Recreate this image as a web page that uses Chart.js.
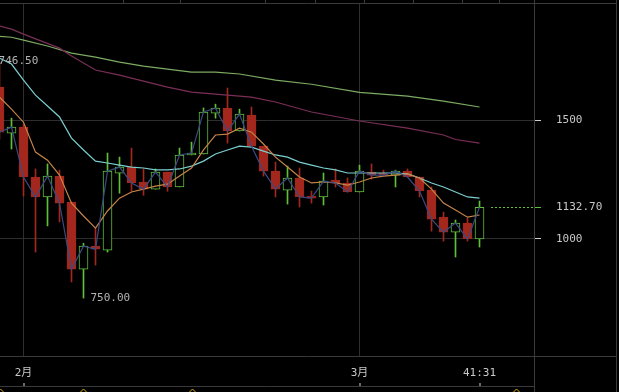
<!DOCTYPE html>
<html>
<head>
<meta charset="utf-8">
<script src="https://cdn.jsdelivr.net/npm/chart.js@4.4.1/dist/chart.umd.min.js"></script>
<style>
html, body { margin: 0; padding: 0; background: #000; }
canvas { display: block; }
</style>
</head>
<body>
<canvas id="kline" width="619" height="392"></canvas>
<script>
// 日K数据 (从图上读出来的)
const opens  = [1639, 1445, 1470, 1260, 1176, 1264, 1155, 872, 969, 952,
                1276, 1302, 1239, 1209, 1281, 1218, 1353, 1357, 1529, 1550,
                1454, 1521, 1390, 1285, 1205, 1256, 1180, 1176, 1247, 1235,
                1197, 1281, 1277, 1268, 1285, 1260, 1205, 1091, 1028, 1066,
                999];
const closes = [1449, 1470, 1260, 1176, 1264, 1150, 872, 969, 956, 1285,
                1302, 1235, 1209, 1281, 1218, 1353, 1361, 1534, 1550, 1454,
                1525, 1390, 1285, 1209, 1256, 1176, 1171, 1243, 1235, 1197,
                1285, 1268, 1268, 1285, 1260, 1201, 1083, 1028, 1066, 999,
                1132.7];
const highs  = [1746.5, 1508, 1480, 1294, 1315, 1289, 1155, 981, 1045, 1361,
                1344, 1382, 1294, 1294, 1281, 1382, 1407, 1551, 1567, 1635,
                1546, 1555, 1390, 1323, 1306, 1298, 1201, 1277, 1294, 1256,
                1310, 1315, 1289, 1289, 1294, 1260, 1218, 1112, 1079, 1087,
                1159];
const lows   = [1420, 1378, 1180, 944, 1054, 1071, 818, 750, 889, 944,
                1192, 1200, 1183, 1209, 1200, 1218, 1353, 1357, 1508, 1403,
                1454, 1390, 1264, 1176, 1146, 1134, 1150, 1142, 1218, 1197,
                1197, 1251, 1268, 1218, 1260, 1176, 1032, 990, 923, 990,
                965];

// 均线
const maOrange = [1597, 1546, 1491, 1365, 1331, 1268, 1150, 1096, 1045, 1117,
                  1171, 1197, 1209, 1222, 1230, 1264, 1298, 1374, 1437, 1441,
                  1466, 1449, 1399, 1344, 1302, 1260, 1235, 1239, 1235, 1226,
                  1239, 1256, 1264, 1268, 1273, 1256, 1209, 1150, 1121, 1091,
                  1100];
const maCyan   = [1761, 1736, 1668, 1605, 1559, 1513, 1424, 1374, 1327, 1319,
                  1310, 1302, 1298, 1290, 1290, 1294, 1306, 1327, 1357, 1374,
                  1390, 1386, 1369, 1353, 1344, 1323, 1310, 1298, 1290, 1277,
                  1277, 1277, 1277, 1277, 1273, 1256, 1235, 1218, 1197, 1176,
                  1171];
const maPurple = [1896, 1883, 1862, null, null, 1803, 1770, null, 1711, null,
                  1689, null, 1664, null, 1639, null, 1618, null, 1609, null,
                  1601, 1597, null, 1576, null, null, 1534, null, null, null,
                  1496, null, null, null, 1466, null, null, 1437, 1418, null,
                  1403];
const maGreen  = [1853, 1849, 1837, null, 1812, null, 1782, null, 1765, null,
                  1744, null, 1727, null, 1715, null, 1702, null, 1702, null,
                  1694, null, null, 1668, null, null, 1651, null, null, null,
                  1617, null, null, null, 1601, null, null, 1580, null, null,
                  1555];

// 时间轴
const tickIdx = [2, 30, 40];
const tickText = ["2月", "3月", "41:31"];
const yTicks = [1000, 1132.7, 1500];
const markerIdx = [0, 7, 16, 43];

const RED = "#a3271c";
const GREEN = "#5fbf3c";
const FRAME = "#3a3a3a";
const GRID = "#2e2e2e";
const TEXT = "#c8c8c8";
const MONO = "'DejaVu Sans Mono', 'Noto Sans CJK SC', monospace";

const idx = closes.map((c, i) => i);
const isUp = i => closes[i] >= opens[i];
const last = closes.length - 1;

// 最高/最低点
let hiI = 0, loI = 0;
idx.forEach(i => {
    if (highs[i] > highs[hiI]) hiI = i;
    if (lows[i] < lows[loI]) loI = i;
});

function linePts(arr) {
    return arr.map((v, i) => ({ x: i, y: v }));
}

// 不要让刻度文字撑开绘图区
function noPad(s) {
    s.paddingTop = 0;
    s.paddingBottom = 0;
    s.paddingLeft = 0;
    s.paddingRight = 0;
}

const decor = {
    id: "decor",
    beforeDraw(chart) {
        const ctx = chart.ctx;
        ctx.save();
        ctx.fillStyle = "#000";
        ctx.fillRect(0, 0, chart.width, chart.height);
        ctx.restore();
    },
    afterDraw(chart) {
        const { ctx, chartArea: a, scales: { x, y } } = chart;
        ctx.save();
        ctx.lineWidth = 1;
        ctx.strokeStyle = FRAME;
        ctx.beginPath();
        // 外框
        ctx.moveTo(0, a.top - 0.5); ctx.lineTo(chart.width - 2, a.top - 0.5);
        ctx.moveTo(a.right - 0.5, 0); ctx.lineTo(a.right - 0.5, chart.height);
        ctx.moveTo(chart.width - 2.5, 0); ctx.lineTo(chart.width - 2.5, chart.height);
        ctx.moveTo(0, a.bottom + 0.5); ctx.lineTo(chart.width - 2, a.bottom + 0.5);
        ctx.moveTo(0, a.bottom + 30.5); ctx.lineTo(a.right, a.bottom + 30.5);
        [123, 180, 265, 315, 364, 413, 462, 499].forEach(px => {
            ctx.moveTo(px + 0.5, 0); ctx.lineTo(px + 0.5, a.top - 1);
        });
        ctx.stroke();

        // 时间轴刻度
        ctx.strokeStyle = "#d0d0d0";
        ctx.beginPath();
        tickIdx.forEach(v => {
            const px = Math.round(x.getPixelForValue(v)) + 0.5;
            ctx.moveTo(px - 0.5, a.bottom + 27); ctx.lineTo(px - 0.5, a.bottom + 30);
        });
        ctx.stroke();

        // 现价虚线
        const py = Math.round(y.getPixelForValue(closes[last])) + 0.5;
        ctx.strokeStyle = GREEN;
        ctx.setLineDash([2, 2]);
        ctx.beginPath();
        ctx.moveTo(x.getPixelForValue(last) + 11.5, py);
        ctx.lineTo(a.right, py);
        ctx.stroke();
        ctx.setLineDash([]);

        // 最高/最低标注
        ctx.fillStyle = "#b4b4b4";
        ctx.font = "11px " + MONO;
        ctx.textBaseline = "middle";
        ctx.textAlign = "left";
        ctx.fillText(highs[hiI].toFixed(2), x.getPixelForValue(hiI) - 7.5, y.getPixelForValue(highs[hiI]));
        ctx.fillText(lows[loI].toFixed(2), x.getPixelForValue(loI) + 7, y.getPixelForValue(lows[loI]));

        // 底部事件标记
        ctx.strokeStyle = "#d9b000";
        ctx.beginPath();
        markerIdx.forEach(v => {
            const px = Math.round(x.getPixelForValue(v)) + 0.5;
            ctx.moveTo(px - 3, chart.height); ctx.lineTo(px, chart.height - 3); ctx.lineTo(px + 3, chart.height);
        });
        ctx.stroke();
        ctx.restore();
    },
};

const ctx = document.getElementById("kline").getContext("2d");
new Chart(ctx, {
    data: {
        datasets: [
            { type: "line", order: 0, data: linePts(closes), borderColor: "#3b4a80", borderWidth: 1.2, pointRadius: 0, tension: 0 },
            { type: "line", order: 0, data: linePts(maOrange), borderColor: "#c5844a", borderWidth: 1.2, pointRadius: 0, tension: 0 },
            { type: "line", order: 0, data: linePts(maCyan), borderColor: "#7ccfd0", borderWidth: 1.2, pointRadius: 0, tension: 0 },
            { type: "line", order: 0, data: linePts(maPurple), borderColor: "#7b2f57", borderWidth: 1.2, pointRadius: 0, tension: 0, spanGaps: true },
            { type: "line", order: 0, data: linePts(maGreen), borderColor: "#7cab62", borderWidth: 1.2, pointRadius: 0, tension: 0, spanGaps: true },
            {
                type: "bar", order: 1, grouped: false,
                data: idx.map(i => ({ x: i, y: [opens[i], closes[i]] })),
                backgroundColor: idx.map(i => isUp(i) ? "#000" : RED),
                borderColor: idx.map(i => isUp(i) ? GREEN : RED),
                borderWidth: 1, borderSkipped: false, barThickness: 9,
            },
            {
                type: "bar", order: 2, grouped: false,
                data: idx.map(i => ({ x: i, y: [lows[i], highs[i]] })),
                backgroundColor: idx.map(i => isUp(i) ? GREEN : RED),
                borderWidth: 0, barThickness: 1,
            },
        ],
    },
    options: {
        responsive: false,
        animation: false,
        layout: { padding: { top: 4, left: 0, right: 0, bottom: 0 } },
        plugins: { legend: { display: false }, tooltip: { enabled: false } },
        scales: {
            x: {
                type: "linear", min: 0.5 / 12, max: 0.5 / 12 + 535 / 12, offset: false,
                afterBuildTicks: s => { s.ticks = tickIdx.map(v => ({ value: v })); },
                afterFit: s => { s.height = 36; noPad(s); },
                ticks: {
                    autoSkip: false, maxRotation: 0, padding: 11, color: TEXT,
                    font: { family: MONO, size: 11 },
                    callback: v => tickText[tickIdx.indexOf(v)],
                },
                grid: {
                    offset: false,
                    drawTicks: false,
                    color: c => (c.tick && c.tick.value === tickIdx[2]) ? "rgba(0,0,0,0)" : GRID,
                },
                border: { display: false },
            },
            y: {
                type: "linear", position: "right", min: 506, max: 1989,
                afterBuildTicks: s => { s.ticks = yTicks.map(v => ({ value: v })); },
                afterFit: s => { s.width = 84; noPad(s); },
                ticks: {
                    padding: 15, color: TEXT,
                    font: { family: MONO, size: 11 },
                    callback: v => v === 1132.7 ? "1132.70" : String(v),
                },
                grid: {
                    tickLength: 6,
                    color: c => (c.tick && c.tick.value === 1132.7) ? "rgba(0,0,0,0)" : GRID,
                    tickColor: c => (c.tick && c.tick.value === 1132.7) ? GREEN : "#d0d0d0",
                },
                border: { display: false },
            },
        },
    },
    plugins: [decor],
});
</script>
</body>
</html>
